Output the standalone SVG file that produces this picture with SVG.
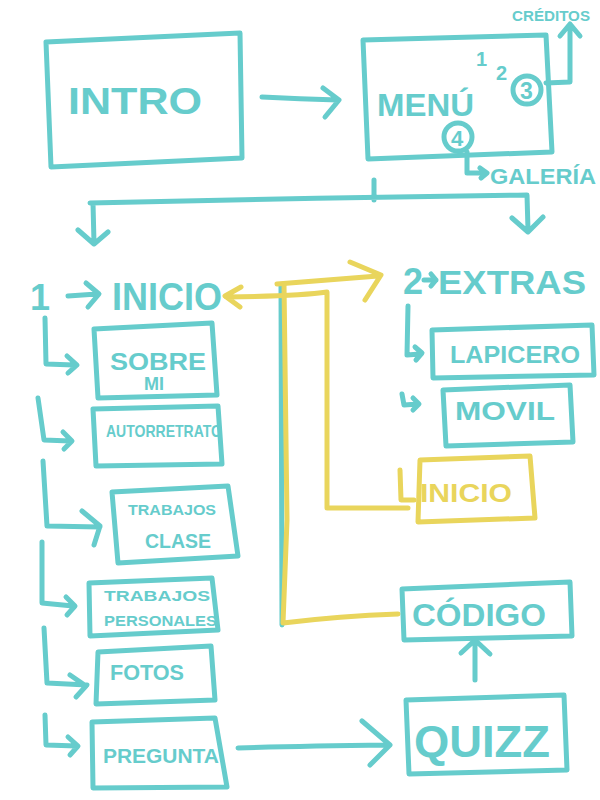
<svg xmlns="http://www.w3.org/2000/svg" width="600" height="800" viewBox="0 0 600 800">
<style>
.b{fill:none;stroke:#66cccc;stroke-width:5;stroke-linecap:round;stroke-linejoin:round}
.y{fill:none;stroke:#e9d55c;stroke-width:5;stroke-linecap:round;stroke-linejoin:round}
.t{fill:#66cccc;font-family:"Liberation Sans",Arial,sans-serif;font-weight:bold}
.ty{fill:#e9d55c;font-family:"Liberation Sans",Arial,sans-serif;font-weight:bold}
</style>
<rect width="600" height="800" fill="#ffffff"/>
<g id="connectors">
  <!-- intro -> menu -->
  <path class="b" d="M262,97 Q300,99 338,100 M323,88 L339,100 L325,117"/>
  <!-- menu split -->
  <path class="b" d="M374,180 L374,200 M90,203 Q300,198 527,195 L528,230 M93,203 L94,243 M78,230 L94,244 L108,232 M512,218 L528,232 L543,217"/>
  <!-- creditos -->
  <path class="b" d="M546,83 L570,82 L570,25 M560,36 L570,24 L580,36"/>
  <!-- galeria -->
  <path class="b" d="M467,152 L467,173 L486,173 M480,168 L487,173 L481,178"/>
  <!-- left hooks -->
  <path class="b" d="M45,318 L46,364 L74,365 M67,356 L77,365 L68,373"/>
  <path class="b" d="M38,398 L44,440 L70,441 M63,432 L72,441 L64,449"/>
  <path class="b" d="M43,461 L47,526 L100,527 M82,511 L100,526 L94,545"/>
  <path class="b" d="M42,542 L42,603 L73,606 M66,597 L75,606 L67,615"/>
  <path class="b" d="M44,628 L47,683 L87,685 M70,675 L86,686 L76,697"/>
  <path class="b" d="M45,715 L46,745 L77,746 M68,737 L78,746 L70,755"/>
  <!-- 1 -> inicio -->
  <path class="b" d="M68,296 L97,294 M86,283 L99,294 L88,307"/>
  <!-- extras hooks -->
  <path class="b" d="M408,306 L407,355 L420,354 M415,347 L422,353 L416,360"/>
  <path class="b" d="M402,394 L404,405 L418,404 M413,398 L419,404 L413,410"/>
  <!-- pregunta -> quizz -->
  <path class="b" d="M238,748 Q300,746 388,745 M362,721 L390,745 L370,765"/>
  <!-- quizz -> codigo -->
  <path class="b" d="M475,680 L475,640 M461,653 L475,640 L490,654"/>
  <!-- teal underlay of the return lines -->
  <path class="b" d="M281,285 L282,625" stroke-width="3"/>
  <!-- yellow links -->
  <path class="y" d="M226,297 Q300,296 327,292 L327,508 L408,508 M241,287 L225,296 L240,307"/>
  <path class="y" d="M277,284 Q330,280 378,276 M350,262 L381,275 L365,300"/>
  <path class="y" d="M284,284 L287,520 L283,623 Q340,616 398,614"/>
  <path class="y" d="M400,470 L401,500 L414,500"/>
</g>
<g id="intro">
  <path class="b" d="M46,42 L240,33 L242,158 L51,167 Z"/>
  <text class="t" x="68" y="114" font-size="36" textLength="134" lengthAdjust="spacingAndGlyphs">INTRO</text>
</g>
<g id="menu">
  <path class="b" d="M363,40 L546,35 L552,152 L368,159 Z"/>
  <text class="t" x="377" y="116" font-size="32" textLength="97" lengthAdjust="spacingAndGlyphs">MENÚ</text>
  <text class="t" x="476" y="66" font-size="20">1</text>
  <text class="t" x="496" y="80" font-size="20">2</text>
  <circle class="b" cx="527" cy="90" r="14" stroke-width="3"/>
  <text class="t" x="520" y="99" font-size="23">3</text>
  <circle class="b" cx="458" cy="137" r="14" stroke-width="3"/>
  <text class="t" x="451" y="146" font-size="22">4</text>
</g>
<g id="creditos">
  <text class="t" x="512" y="21" font-size="15" textLength="78" lengthAdjust="spacingAndGlyphs">CRÉDITOS</text>
</g>
<g id="galeria">
  <text class="t" x="490" y="184" font-size="22" textLength="106" lengthAdjust="spacingAndGlyphs">GALERÍA</text>
</g>
<g id="inicio">
  <text class="t" x="30" y="310" font-size="36">1</text>
  <text class="t" x="112" y="310" font-size="38" textLength="110" lengthAdjust="spacingAndGlyphs">INICIO</text>
</g>
<g id="sobremi">
  <path class="b" d="M94,329 L212,323 L217,395 L98,398 Z"/>
  <text class="t" x="110" y="370" font-size="24" textLength="96" lengthAdjust="spacingAndGlyphs">SOBRE</text>
  <text class="t" x="144" y="390" font-size="18">MI</text>
</g>
<g id="autorretrato">
  <path class="b" d="M93,409 L218,406 L222,464 L96,466 Z"/>
  <text class="t" x="106" y="437" font-size="17" textLength="116" lengthAdjust="spacingAndGlyphs">AUTORRETRATO</text>
</g>
<g id="trabajosclase">
  <path class="b" d="M112,492 L228,486 L238,556 L118,563 Z"/>
  <text class="t" x="128" y="515" font-size="15" textLength="88" lengthAdjust="spacingAndGlyphs">TRABAJOS</text>
  <text class="t" x="145" y="548" font-size="20" textLength="66" lengthAdjust="spacingAndGlyphs">CLASE</text>
</g>
<g id="trabajospersonales">
  <path class="b" d="M89,583 L212,578 L218,630 L90,636 Z"/>
  <text class="t" x="104" y="601" font-size="15" textLength="106" lengthAdjust="spacingAndGlyphs">TRABAJOS</text>
  <text class="t" x="104" y="626" font-size="15" textLength="113" lengthAdjust="spacingAndGlyphs">PERSONALES</text>
</g>
<g id="fotos">
  <path class="b" d="M98,652 L211,646 L215,700 L96,704 Z"/>
  <text class="t" x="110" y="680" font-size="22" textLength="74" lengthAdjust="spacingAndGlyphs">FOTOS</text>
</g>
<g id="pregunta">
  <path class="b" d="M92,722 L215,718 L227,787 L93,788 Z"/>
  <text class="t" x="103" y="763" font-size="20" textLength="116" lengthAdjust="spacingAndGlyphs">PREGUNTA</text>
</g>
<g id="extras">
  <text class="t" x="403" y="294" font-size="36">2</text>
  <path class="b" d="M424,280 L436,280 M431,274 L436,280 L431,286" stroke-width="4"/>
  <text class="t" x="438" y="294" font-size="34" textLength="148" lengthAdjust="spacingAndGlyphs">EXTRAS</text>
</g>
<g id="lapicero">
  <path class="b" d="M432,330 L592,325 L594,375 L433,378 Z"/>
  <text class="t" x="450" y="363" font-size="24" textLength="130" lengthAdjust="spacingAndGlyphs">LAPICERO</text>
</g>
<g id="movil">
  <path class="b" d="M443,390 L570,385 L573,442 L446,446 Z"/>
  <text class="t" x="455" y="420" font-size="26" textLength="100" lengthAdjust="spacingAndGlyphs">MOVIL</text>
</g>
<g id="inicio2">
  <path class="y" d="M420,460 L530,456 L535,518 L418,522 Z"/>
  <text class="ty" x="420" y="502" font-size="26" textLength="92" lengthAdjust="spacingAndGlyphs">INICIO</text>
</g>
<g id="codigo">
  <path class="b" d="M402,589 L570,582 L572,636 L404,640 Z"/>
  <text class="t" x="412" y="626" font-size="32" textLength="134" lengthAdjust="spacingAndGlyphs">CÓDIGO</text>
</g>
<g id="quizz">
  <path class="b" d="M406,700 L564,695 L567,770 L409,774 Z"/>
  <text class="t" x="414" y="757" font-size="44" textLength="136" lengthAdjust="spacingAndGlyphs">QUIZZ</text>
</g>
</svg>
